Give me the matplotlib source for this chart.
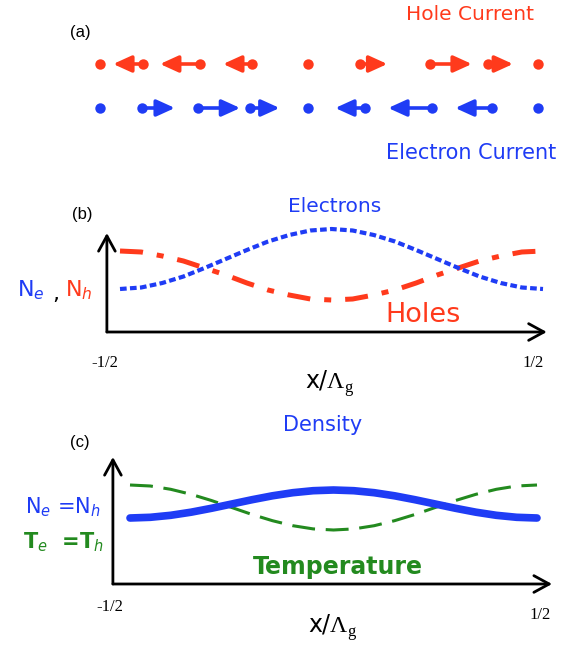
import matplotlib
matplotlib.use('Agg')
import matplotlib.pyplot as plt

W, H = 575, 647
RED = '#ff3a1c'
BLUE = '#1f3cf5'
GREEN = '#238a1f'

# (a) dot positions (x / Lambda_g) and arrow displacement for each carrier
hole_x = [-0.5, -0.402, -0.272, -0.153, -0.025, 0.094, 0.253, 0.386, 0.5]
hole_dx = [0, -0.068, -0.091, -0.066, 0, 0.062, 0.096, 0.057, 0]
elec_x = [-0.5, -0.404, -0.276, -0.158, -0.025, 0.105, 0.258, 0.395, 0.5]
elec_dx = [0, 0.075, 0.096, 0.068, 0, -0.068, -0.100, -0.084, 0]

# (b) and (c) profiles across one grating period
x_prof = [-0.5, -0.45, -0.4, -0.35, -0.3, -0.25, -0.2, -0.15, -0.1, -0.05, 0.0,
          0.05, 0.1, 0.15, 0.2, 0.25, 0.3, 0.35, 0.4, 0.45, 0.5]
n_holes = [0.81, 0.80, 0.76, 0.71, 0.64, 0.57, 0.49, 0.42, 0.37, 0.33, 0.32,
           0.33, 0.37, 0.42, 0.49, 0.57, 0.64, 0.71, 0.76, 0.80, 0.81]
n_elec = [0.43, 0.445, 0.49, 0.555, 0.64, 0.73, 0.82, 0.905, 0.97, 1.015, 1.03,
          1.015, 0.97, 0.905, 0.82, 0.73, 0.64, 0.555, 0.49, 0.445, 0.43]
density = [0.66, 0.667, 0.687, 0.718, 0.757, 0.80, 0.843, 0.882, 0.913, 0.933, 0.94,
           0.933, 0.913, 0.882, 0.843, 0.80, 0.757, 0.718, 0.687, 0.667, 0.66]
temperature = [0.99, 0.98, 0.947, 0.897, 0.835, 0.765, 0.695, 0.633, 0.583, 0.551, 0.54,
               0.551, 0.583, 0.633, 0.695, 0.765, 0.835, 0.897, 0.947, 0.98, 0.99]

plt.rcParams['mathtext.fontset'] = 'custom'
plt.rcParams['mathtext.rm'] = 'Liberation Serif'
plt.rcParams['mathtext.it'] = 'DejaVu Sans:italic'

fig = plt.figure(figsize=(W / 100, H / 100), dpi=100)


def panel(top, bottom, x0, x1, y0):
    # axes across the full width; x=-1/2..1/2 sits between pixels x0 and x1
    ax = fig.add_axes([0, 1 - bottom / H, 1, (bottom - top) / H])
    span = x1 - x0
    ax.set_xlim(-0.5 - x0 / span, 0.5 + (W - x1) / span)
    ax.set_ylim(-(bottom - y0) / 100, (y0 - top) / 100)
    ax.axis('off')
    return ax


def label(px, py, s, **kw):
    kw.setdefault('ha', 'center')
    kw.setdefault('va', 'center')
    fig.text(px / W, 1 - py / H, s, **kw)


def axes_arrows(ax, xa, ytop, xtip):
    style = dict(arrowstyle='->,head_length=0.55,head_width=0.3', lw=2.0,
                 color='black', shrinkA=0, shrinkB=0, mutation_scale=20)
    ax.annotate('', xy=(xa, ytop), xytext=(xa, 0), arrowprops=style)
    ax.annotate('', xy=(xtip, 0), xytext=(xa, 0), arrowprops=style)


# ---- (a) currents
ax_a = panel(0, 180, 100, 538, 108)
for xs, dxs, y, c in [(hole_x, hole_dx, 0.44, RED), (elec_x, elec_dx, 0.0, BLUE)]:
    ax_a.plot(xs, [y] * len(xs), 'o', ms=7.5, color=c, mec='none')
    for x, dx in zip(xs, dxs):
        if dx != 0:
            ax_a.annotate('', xy=(x + dx, y), xytext=(x, y),
                          arrowprops=dict(arrowstyle='-|>,head_length=0.55,head_width=0.25',
                                          lw=2.6, color=c, shrinkA=0, shrinkB=0,
                                          mutation_scale=20))

label(80, 33, '(a)', fontsize=12, family='Liberation Sans')
label(470, 15, 'Hole Current', fontsize=14.5, color=RED)
label(471, 153, 'Electron Current', fontsize=15, color=BLUE)

# ---- (b) carrier densities
ax_b = panel(185, 395, 120, 543, 332)
ax_b.plot(x_prof, n_holes, color=RED, lw=3.6, dashes=[4.6, 2.8, 1.4, 2.8])
ax_b.plot(x_prof, n_elec, color=BLUE, lw=3.0, dashes=[1.6, 0.8])
axes_arrows(ax_b, -0.531, 0.99, 0.509)

label(82, 215, '(b)', fontsize=12, family='Liberation Sans')
label(335, 206, 'Electrons', fontsize=14.5, color=BLUE)
label(423, 315, 'Holes', fontsize=19.5, color=RED)
label(31, 290, r'N$_e$', fontsize=16, color=BLUE)
label(56, 294, ',', fontsize=16, color='black')
label(79, 290, r'N$_h$', fontsize=16, color=RED)
label(105, 363, '-1/2', fontsize=12, family='Liberation Serif')
label(533, 363, '1/2', fontsize=12, family='Liberation Serif')
label(330, 384, r'x/$\Lambda_{\mathrm{g}}$', fontsize=17)

# ---- (c) density and temperature
ax_c = panel(400, 647, 130, 537, 584)
ax_c.plot(x_prof, temperature, color=GREEN, lw=2.2, dashes=[7.5, 3.5])
ax_c.plot(x_prof, density, color=BLUE, lw=5.5, solid_capstyle='round')
axes_arrows(ax_c, -0.542, 1.27, 0.537)

label(80, 442, '(c)', fontsize=12, family='Liberation Sans')
label(323, 425, 'Density', fontsize=15, color=BLUE)
label(338, 567, 'Temperature', fontsize=17, color=GREEN, fontweight='bold')
label(63, 507, r'N$_e$ =N$_h$', fontsize=15, color=BLUE)
label(63, 542, r'T$_e$  =T$_h$', fontsize=15, color=GREEN, fontweight='bold')
label(110, 607, '-1/2', fontsize=12, family='Liberation Serif')
label(540, 615, '1/2', fontsize=12, family='Liberation Serif')
label(333, 628, r'x/$\Lambda_{\mathrm{g}}$', fontsize=17)

fig.savefig('out.png', dpi=100, facecolor='white')
